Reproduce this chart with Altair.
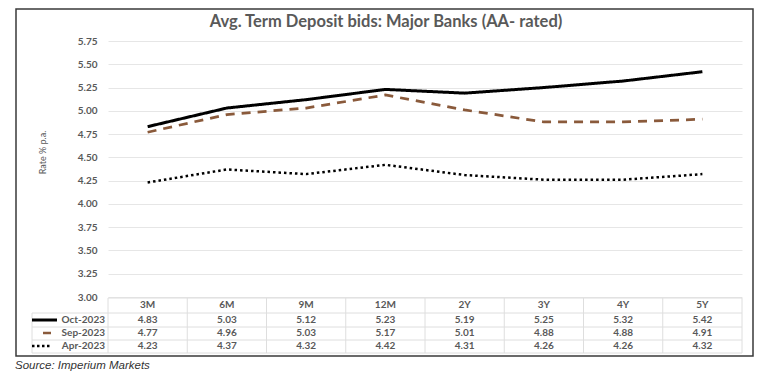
import altair as alt
import pandas as pd

tenors = ["3M", "6M", "9M", "12M", "2Y", "3Y", "4Y", "5Y"]
series = ["Oct-2023", "Sep-2023", "Apr-2023"]
oct_2023 = [4.83, 5.03, 5.12, 5.23, 5.19, 5.25, 5.32, 5.42]
sep_2023 = [4.77, 4.96, 5.03, 5.17, 5.01, 4.88, 4.88, 4.91]
apr_2023 = [4.23, 4.37, 4.32, 4.42, 4.31, 4.26, 4.26, 4.32]
y_ticks = [3.00, 3.25, 3.50, 3.75, 4.00, 4.25, 4.50, 4.75, 5.00, 5.25, 5.50, 5.75]
title_text = "Avg. Term Deposit bids: Major Banks (AA- rated)"
y_title = "Rate % p.a."
source_text = "Source: Imperium Markets"

rows = []
for name, vals in zip(series, [oct_2023, sep_2023, apr_2023]):
    for t, v in zip(tenors, vals):
        rows.append({"tenor": t, "series": name, "rate": v, "label": f"{v:.2f}"})
df = pd.DataFrame(rows)
tenor_df = pd.DataFrame({"tenor": tenors})

FONT = "Lato"
GREY = "#595959"
W, H = 634, 256

xscale = alt.Scale(type="band", domain=tenors, paddingInner=0, paddingOuter=0)
yscale = alt.Scale(domain=[3.0, 5.75], nice=False, zero=False)

base = alt.Chart(df)

lines = base.mark_line().encode(
    x=alt.X("tenor:N", scale=xscale, axis=None, sort=tenors),
    y=alt.Y("rate:Q", scale=yscale,
            axis=alt.Axis(values=y_ticks, format=".2f", domain=False, ticks=False,
                          labelPadding=11, labelFont=FONT, labelFontSize=10,
                          labelFontWeight="bold", labelColor=GREY,
                          gridColor="#e6e6e6", gridWidth=1,
                          title=y_title, titleFont=FONT, titleFontSize=9,
                          titleFontWeight="normal", titleColor=GREY,
                          titleX=-61, titleY=111, titleAngle=270)),
    color=alt.Color("series:N", scale=alt.Scale(domain=series,
                    range=["#000000", "#8a5a3b", "#000000"]), legend=None),
    strokeDash=alt.StrokeDash("series:N", scale=alt.Scale(domain=series,
                    range=[[1, 0], [9, 7], [2.5, 3]]), legend=None),
    strokeWidth=alt.StrokeWidth("series:N", scale=alt.Scale(domain=series,
                    range=[3, 2.5, 2.5]), legend=None),
)

GRID = "#dedede"
hline_top = alt.Chart(tenor_df.head(1)).mark_rule(color=GRID, strokeWidth=1).encode(
    x=alt.value(0), x2=alt.value(W), y=alt.value(257))
hlines = []
for yy in [272, 286, 299, 312]:
    hlines.append(alt.Chart(tenor_df.head(1)).mark_rule(color=GRID, strokeWidth=1).encode(
        x=alt.value(-76), x2=alt.value(W), y=alt.value(yy)))
vlines = alt.Chart(tenor_df).mark_rule(color=GRID, strokeWidth=1).encode(
    x=alt.X("tenor:N", scale=xscale, sort=tenors, bandPosition=0),
    y=alt.value(257), y2=alt.value(312))
vline_right = alt.Chart(tenor_df.head(1)).mark_rule(color=GRID, strokeWidth=1).encode(
    x=alt.value(W), y=alt.value(257), y2=alt.value(312))
vline_left = alt.Chart(tenor_df.head(1)).mark_rule(color=GRID, strokeWidth=1).encode(
    x=alt.value(-76), y=alt.value(272), y2=alt.value(312))

text_style = dict(font=FONT, fontSize=10, fontWeight="bold", color=GREY, baseline="middle")

header = alt.Chart(tenor_df).mark_text(**text_style).encode(
    x=alt.X("tenor:N", scale=xscale, sort=tenors), y=alt.value(264), text="tenor:N")

row_y = [279, 292, 305]
table_text = []
legend_text = []
for name, yy in zip(series, row_y):
    table_text.append(base.transform_filter(alt.datum.series == name).mark_text(**text_style).encode(
        x=alt.X("tenor:N", scale=xscale, sort=tenors), y=alt.value(yy), text="label:N"))
    legend_text.append(alt.Chart(pd.DataFrame({"s": [name]})).mark_text(align="right", **text_style).encode(
        x=alt.value(-3), y=alt.value(yy), text="s:N"))

sample_oct = alt.Chart(tenor_df.head(1)).mark_rule(color="#000000", strokeWidth=3).encode(
    x=alt.value(-76), x2=alt.value(-51), y=alt.value(279))
sample_sep = alt.Chart(tenor_df.head(1)).mark_rule(color="#8a5a3b", strokeWidth=2.5).encode(
    x=alt.value(-65), x2=alt.value(-57), y=alt.value(292))
sample_apr = alt.Chart(tenor_df.head(1)).mark_rule(color="#000000", strokeWidth=2.5, strokeDash=[2.5, 2.5]).encode(
    x=alt.value(-76), x2=alt.value(-58), y=alt.value(305))

border = alt.Chart(tenor_df.head(1)).mark_rect(fill=None, stroke="#3a3a3a", strokeWidth=1.5).encode(
    x=alt.value(-92), x2=alt.value(645), y=alt.value(-32), y2=alt.value(315))

title = alt.Chart(pd.DataFrame({"t": [title_text]})).mark_text(
    font=FONT, fontSize=16.5, fontWeight="bold", color=GREY, baseline="middle").encode(
    x=alt.value(278), y=alt.value(-19), text="t:N")

source = alt.Chart(pd.DataFrame({"t": [source_text]})).mark_text(
    font="Liberation Sans", fontSize=11.5, fontStyle="italic", color="#333333", align="left", baseline="middle").encode(
    x=alt.value(-93), y=alt.value(325), text="t:N")

chart = alt.layer(
    lines, hline_top, *hlines, vlines, vline_right, vline_left, header,
    *table_text, *legend_text, sample_oct, sample_sep, sample_apr,
    border, title, source
).properties(
    width=W, height=H,
    autosize=alt.AutoSizeParams(type="none"),
    padding={"left": 100, "top": 33, "right": 20, "bottom": 77},
).configure_view(stroke=None)

chart.save("out.html", embed_options={"renderer": "svg", "actions": False})
